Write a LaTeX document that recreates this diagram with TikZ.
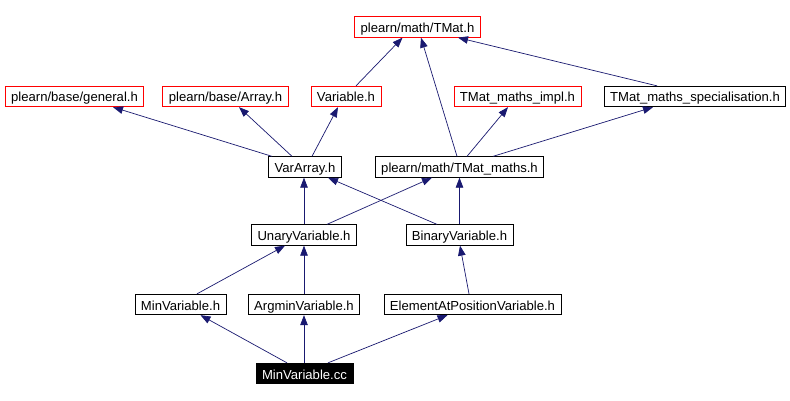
\documentclass[tikz,border=0pt]{standalone}
\usepackage{fontspec}
\setmainfont{Liberation Sans}
\usetikzlibrary{arrows.meta, positioning}
\definecolor{edgeblue}{HTML}{191970}

\begin{document}
\begin{tikzpicture}[x=1pt, y=-1pt,
    hdr/.style={draw=black, line width=0.8pt, fill=white, inner xsep=6pt, inner ysep=0pt,
      minimum height=20.5pt, text height=12.5pt, text depth=1.5pt,
      font=\fontsize{13.1}{15}\selectfont},
    nodoc/.style={hdr, draw=red},
    self/.style={hdr, fill=black, text=white},
    dep/.style={draw=edgeblue, line width=0.7pt, -{Triangle[length=10pt, width=7.5pt]}}]
    \useasboundingbox[fill=white] (0,0) rectangle (790,401);

    % Top row
    \node[nodoc] (tmat) at (417.5,27) {plearn/math/TMat.h};

    % Second row
    \node[nodoc] (general) at (74.5,96.5) {plearn/base/general.h};
    \node[nodoc] (array) at (225.5,96.5) {plearn/base/Array.h};
    \node[nodoc] (variable) at (346,96.5) {Variable.h};
    \node[nodoc] (impl) at (517.5,96.5) {TMat\_maths\_impl.h};
    \node[hdr] (spec) at (695,96.5) {TMat\_maths\_specialisation.h};

    % Third row
    \node[hdr] (vararray) at (305,167) {VarArray.h};
    \node[hdr] (tmatmaths) at (459.5,167) {plearn/math/TMat\_maths.h};

    % Fourth row
    \node[hdr] (unary) at (304,235) {UnaryVariable.h};
    \node[hdr] (binary) at (459.5,235) {BinaryVariable.h};

    % Fifth row
    \node[hdr] (minvarh) at (180.5,304.5) {MinVariable.h};
    \node[hdr] (argmin) at (304,304.5) {ArgminVariable.h};
    \node[hdr] (elemat) at (472.5,304.5) {ElementAtPositionVariable.h};

    % The file itself
    \node[self] (mincc) at (304.5,373.5) {MinVariable.cc};

    % Includes of VarArray.h
    \draw[dep] ([xshift=-33pt]vararray.north) -- ([xshift=38.5pt]general.south);
    \draw[dep] ([xshift=-13pt]vararray.north) -- ([xshift=13.5pt]array.south);
    \draw[dep] ([xshift=7pt]vararray.north) -- ([xshift=-8pt]variable.south);
    \draw[dep] ([xshift=10pt]variable.north) -- ([xshift=-15pt]tmat.south);

    % Includes of TMat_maths.h
    \draw[dep] ([xshift=-2.5pt]tmatmaths.north) -- ([xshift=3.5pt]tmat.south);
    \draw[dep] ([xshift=7.5pt]tmatmaths.north) -- ([xshift=-9.5pt]impl.south);
    \draw[dep] ([xshift=33.5pt]tmatmaths.north) -- ([xshift=-42pt]spec.south);
    \draw[dep] ([xshift=-38pt]spec.north) -- ([xshift=40.5pt]tmat.south);

    % Unary / Binary
    \draw[dep] (unary.north) -- ([xshift=-1pt]vararray.south);
    \draw[dep] ([xshift=23pt]unary.north) -- ([xshift=-27.5pt]tmatmaths.south);
    \draw[dep] ([xshift=-22.5pt]binary.north) -- ([xshift=23pt]vararray.south);
    \draw[dep] (binary.north) -- (tmatmaths.south);

    % Variables
    \draw[dep] ([xshift=16.5pt]minvarh.north) -- ([xshift=-19pt]unary.south);
    \draw[dep] (argmin.north) -- (unary.south);
    \draw[dep] ([xshift=-3.5pt]elemat.north) -- ([xshift=0.5pt]binary.south);

    % MinVariable.cc
    \draw[dep] ([xshift=-17.5pt]mincc.north) -- ([xshift=20pt]minvarh.south);
    \draw[dep] ([xshift=-0.5pt]mincc.north) -- (argmin.south);
    \draw[dep] ([xshift=23.5pt]mincc.north) -- ([xshift=-25pt]elemat.south);
\end{tikzpicture}
\end{document}
